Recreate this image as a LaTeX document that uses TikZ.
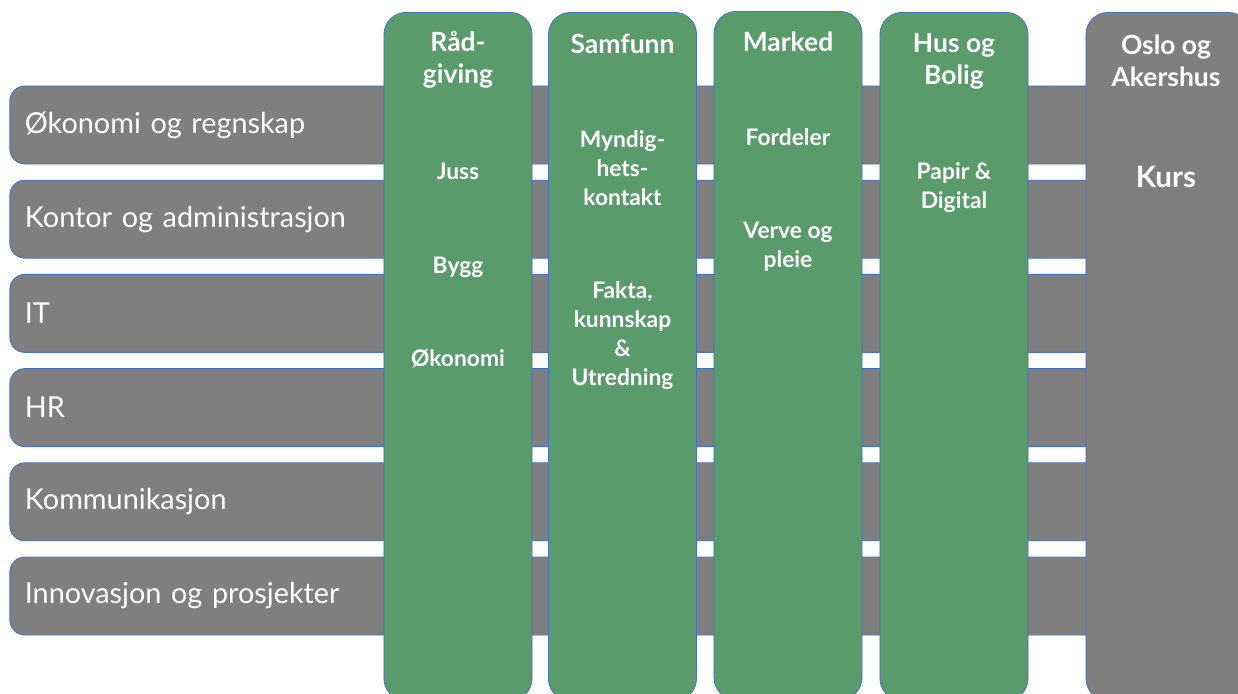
\documentclass[tikz,border=0pt]{standalone}
\usepackage{fontspec}
\setmainfont{Lato}

\begin{document}
\begin{tikzpicture}[x=0.025cm, y=-0.025cm]
    % Define colors
    \definecolor{deptgray}{RGB}{127,127,127}
    \definecolor{pillargreen}{RGB}{89,155,107}
    \definecolor{outline}{RGB}{68,114,196}

    % Define styles
    \tikzstyle{dept} = [rectangle, rounded corners=0.375cm, draw=outline, line width=0.6pt, fill=deptgray, text width=26.5cm, inner xsep=0.375cm, minimum height=1.95cm, align=left, text=white, font=\fontsize{20.5}{24}\selectfont]
    \tikzstyle{pillar} = [rectangle, rounded corners=0.55cm, draw=outline, line width=0.6pt, fill=pillargreen, minimum width=3.7cm, minimum height=17.2cm, anchor=north]
    \tikzstyle{head} = [text=white, align=center, inner sep=0pt, font=\bfseries\fontsize{18.8}{22.8}\selectfont]
    \tikzstyle{item} = [text=white, align=center, inner sep=0pt, font=\bfseries\fontsize{16.2}{20.6}\selectfont]

    % Frame
    \useasboundingbox (0,0) rectangle (1238,693);
    \clip (0,0) rectangle (1238,693);

    % Rows
    \node[dept] (okonomi) at (555,125) {Økonomi og regnskap};
    \node[dept] (kontor) at (555,219.2) {Kontor og administrasjon};
    \node[dept] (it) at (555,313.4) {IT};
    \node[dept] (hr) at (555,407.6) {HR};
    \node[dept] (komm) at (555,501.8) {Kommunikasjon};
    \node[dept] (innov) at (555,596) {Innovasjon og prosjekter};

    % Columns
    \node[pillar] (raad) at (458,12) {};
    \node[pillar] (samfunn) at (622.5,12) {};
    \node[pillar] (marked) at (788,11) {};
    \node[pillar] (hus) at (954,12) {};
    \node[pillar, fill=deptgray, minimum width=4.1cm] (oslo) at (1168,12) {};

    % Column texts
    \node[head] (raadhead) at (458,60) {Råd-\\giving};
    \node[item] (juss) at (458,171) {Juss};
    \node[item] (bygg) at (458,267) {Bygg};
    \node[item] (raadoko) at (458,359) {Økonomi};

    \node[head] (samfunnhead) at (622.5,44) {Samfunn};
    \node[item] (myndig) at (622.5,168) {Myndig-\\hets-\\kontakt};
    \node[item] (fakta) at (622.5,336) {Fakta,\\kunnskap\\\&\\Utredning};

    \node[head] (markedhead) at (788,42) {Marked};
    \node[item] (fordeler) at (788,137) {Fordeler};
    \node[item] (verve) at (788,247) {Verve og\\pleie};

    \node[head] (hushead) at (954,61) {Hus og\\Bolig};
    \node[item] (papir) at (954,188) {Papir \&\\Digital};

    \node[head] (oslohead) at (1166,61) {Oslo og\\Akershus};
    \node[head, font=\bfseries\fontsize{21}{24}\selectfont] (kurs) at (1166,177) {Kurs};
\end{tikzpicture}
\end{document}
